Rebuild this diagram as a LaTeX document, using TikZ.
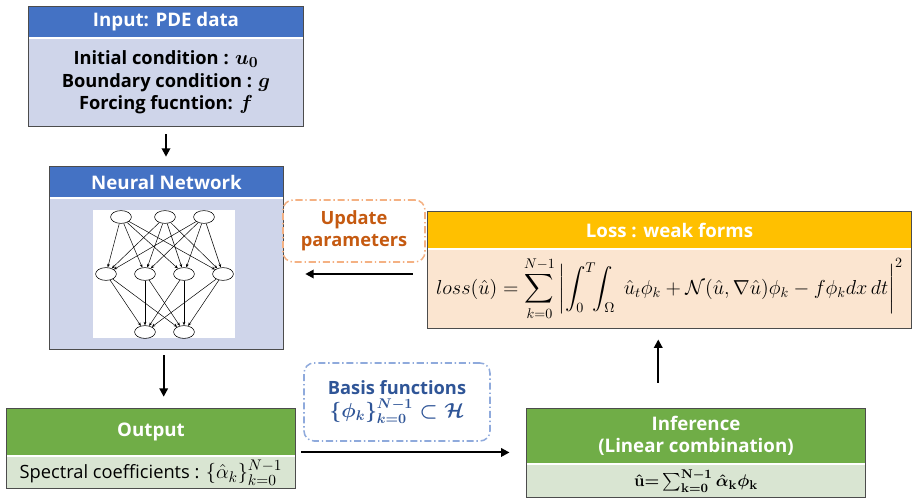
\documentclass[tikz,border=0pt]{standalone}
\usepackage{amsmath,amssymb}
\usepackage[no-math]{fontspec}
\setmainfont{Open Sans}
\usetikzlibrary{arrows.meta,shapes.geometric}
\definecolor{hdblue}{HTML}{4472C4}
\definecolor{bdblue}{HTML}{CFD5EA}
\definecolor{hdgreen}{HTML}{70AD47}
\definecolor{bdgreen}{HTML}{D9E5D2}
\definecolor{hdyellow}{HTML}{FFC000}
\definecolor{bdpeach}{HTML}{FBE5D0}
\definecolor{orline}{HTML}{F4B183}
\definecolor{ortext}{HTML}{C55A11}
\definecolor{blline}{HTML}{8FAADC}
\definecolor{bltext}{HTML}{2F5597}
\newcommand{\largemath}[2][15.5]{{\fontsize{#1}{16}\selectfont$#2$}}
\tikzset{
  boxsize/.style 2 args={minimum width=#1*0.025cm, minimum height=#2*0.025cm},
  headbox/.style={inner sep=0pt, text=white, align=center,
    font=\bfseries\fontsize{13.3}{16}\selectfont},
  bodybox/.style={inner sep=0pt, align=center, font=\fontsize{13}{15.6}\selectfont},
  framebox/.style={draw=black!70, line width=0.8pt},
  notebox/.style={rounded corners=0.25cm, line width=1.1pt, align=center,
    dash pattern=on 5pt off 2pt on 1pt off 2pt,
    font=\bfseries\fontsize{13}{16}\selectfont},
  neuron/.style={ellipse, draw, line width=0.4pt, inner sep=0pt,
    minimum width=0.52cm, minimum height=0.32cm},
  link/.style={line width=0.35pt, -{Stealth[length=2.5pt,width=2pt]}},
  flow/.style={line width=1.4pt, -{Triangle[length=6pt,width=6pt]}},
}
\begin{document}
\begin{tikzpicture}[x=0.025cm, y=-0.025cm]
\useasboundingbox (0,0) rectangle (912,498);
\node[headbox, fill=hdblue, boxsize={274}{30}] (inhead) at (166,22) {Input: PDE data};
\node[bodybox, fill=bdblue, boxsize={274}{87}, font=\bfseries\fontsize{13}{16}\selectfont] (inbody) at (166,82.5)
  {Initial condition : \largemath{\boldsymbol{u_0}}\\ Boundary condition : \largemath{\boldsymbol{g}}\\ Forcing fucntion: \largemath{\boldsymbol{f}}};
\draw[framebox] (inhead.north west) rectangle (inbody.south east);
\node[headbox, fill=hdblue, boxsize={233}{30}] (nnhead) at (166.5,182) {Neural Network};
\node[bodybox, fill=bdblue, boxsize={233}{150}] (nnbody) at (166.5,274) {};
\draw[framebox] (nnhead.north west) rectangle (nnbody.south east);
\node[fill=white, boxsize={142}{128}, inner sep=0pt] (nnpic) at (164,274) {};
\node[neuron] (t1) at (121,217) {};
\node[neuron] (t2) at (165,217) {};
\node[neuron] (t3) at (204,217) {};
\node[neuron] (m1) at (106,274) {};
\node[neuron] (m2) at (145,274) {};
\node[neuron] (m3) at (184,274) {};
\node[neuron] (m4) at (223,274) {};
\node[neuron] (b1) at (145,332) {};
\node[neuron] (b2) at (184,332) {};
\foreach \s in {t1,t2,t3}
  \foreach \d in {m1,m2,m3,m4}
    \draw[link] (\s) -- (\d);
\foreach \s in {m1,m2,m3,m4}
  \foreach \d in {b1,b2}
    \draw[link] (\s) -- (\d);
\node[notebox, draw=orline, text=ortext, boxsize={142}{62}] (update) at (354,231) {Update\\parameters};
\node[headbox, fill=hdyellow, boxsize={483}{36}] (losshead) at (669.5,230) {Loss : weak forms};
\node[bodybox, fill=bdpeach, boxsize={483}{78}, font=\fontsize{14.5}{18}\selectfont] (lossbody) at (669.5,289)
  {$\displaystyle loss(\hat{u}) = \sum_{k=0}^{N-1}\left|\int_0^T\!\!\int_\Omega\ \hat{u}_t\phi_k+\mathcal{N}(\hat{u},\nabla\hat{u})\phi_k-f\phi_k dx\,dt\right|^2$};
\draw[framebox] (losshead.north west) rectangle (lossbody.south east);
\node[headbox, fill=hdgreen, boxsize={288}{46}] (outhead) at (151,432) {Output};
\node[bodybox, fill=bdgreen, boxsize={288}{31}] (outbody) at (151,472.5)
  {Spectral coefficients : \largemath{\{\hat{\alpha}_k\}_{k=0}^{N-1}}};
\draw[framebox] (outhead.north west) rectangle (outbody.south east);
\node[notebox, draw=blline, text=bltext, boxsize={186}{78}] (basis) at (397,402)
  {Basis functions\\ \largemath[14]{\boldsymbol{\{\phi_k\}_{k=0}^{N-1}\subset\mathcal{H}}}};
\node[headbox, fill=hdgreen, boxsize={338}{54}] (infhead) at (696,436) {Inference\\(Linear combination)};
\node[bodybox, fill=bdgreen, boxsize={338}{32}] (infbody) at (696,481)
  {\largemath[12.5]{\boldsymbol{\hat{\mathbf{u}}{=}\sum\nolimits_{\mathbf{k=0}}^{\mathbf{N-1}}\hat{\alpha}_{\mathbf{k}}\phi_{\mathbf{k}}}}};
\draw[framebox] (infhead.north west) rectangle (infbody.south east);
\draw[flow, shorten <=0.2cm, shorten >=0.25cm] (inbody.south) -- (inbody.south |- nnhead.north);
\draw[flow, shorten <=0.15cm, shorten >=0.3cm] ([xshift=-2pt]nnbody.south) -- ([xshift=-2pt]nnbody.south |- outhead.north);
\draw[flow, shorten <=0.15cm, shorten >=0.43cm] ([yshift=2pt]outhead.south east) -- ([yshift=2pt]outhead.south east -| infhead.west);
\draw[flow, shorten <=0.65cm, shorten >=0.28cm] ([xshift=-8pt]lossbody.south |- infhead.north) -- ([xshift=-8pt]lossbody.south);
\draw[flow, shorten <=0.38cm, shorten >=0.55cm] (lossbody.west |- nnbody.east) -- (nnbody.east);
\end{tikzpicture}
\end{document}
